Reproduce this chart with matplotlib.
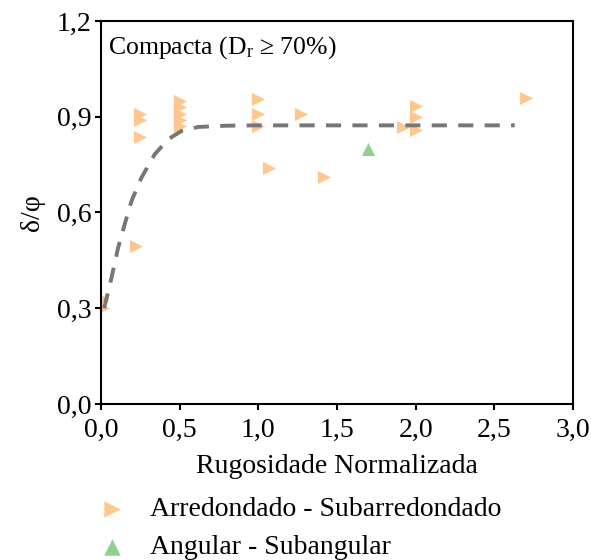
import matplotlib
matplotlib.use("Agg")
import matplotlib.pyplot as plt
from matplotlib.ticker import FixedLocator

plt.rcParams['font.family'] = ['Liberation Serif', 'DejaVu Serif']
plt.rcParams['mathtext.fontset'] = 'custom'
plt.rcParams['mathtext.rm'] = 'Liberation Serif'
plt.rcParams['mathtext.it'] = 'Liberation Serif:italic'

# Data: Arredondado - Subarredondado
round_x = [0.01, 0.01, 0.22, 0.25, 0.25, 0.25, 0.50, 0.50, 0.50, 0.50, 0.50,
           1.00, 1.00, 1.00, 1.07, 1.27, 1.42, 1.92, 2.00, 2.00, 2.00, 2.70]
round_y = [0.30, 0.33, 0.495, 0.91, 0.89, 0.835, 0.95, 0.93, 0.91, 0.89, 0.87,
           0.955, 0.91, 0.87, 0.74, 0.91, 0.71, 0.868, 0.935, 0.90, 0.857, 0.96]

# Data: Angular - Subangular
ang_x = [1.70]
ang_y = [0.80]

# Trend curve points
fit_x = [0.02, 0.066, 0.108, 0.15, 0.193, 0.256, 0.341, 0.426, 0.51, 0.617, 0.8, 1.0, 2.63]
fit_y = [0.30, 0.394, 0.488, 0.562, 0.635, 0.708, 0.782, 0.829, 0.855, 0.868, 0.872, 0.873, 0.873]

xticks = [0.0, 0.5, 1.0, 1.5, 2.0, 2.5, 3.0]
xlabels = ['0,0', '0,5', '1,0', '1,5', '2,0', '2,5', '3,0']
yticks = [0.0, 0.3, 0.6, 0.9, 1.2]
ylabels = ['0,0', '0,3', '0,6', '0,9', '1,2']

fig = plt.figure(figsize=(5.91, 5.60), dpi=100)
ax = fig.add_axes([0.1709, 0.2786, 0.7986, 0.6839])

ax.plot(fit_x, fit_y, color='#767676', lw=2.8, linestyle=(0, (3.9, 2.9)), zorder=3)
h1 = ax.scatter(round_x, round_y, marker='>', s=90, color='#FFC78F', linewidths=0, zorder=2,
                label='Arredondado - Subarredondado')
h2 = ax.scatter(ang_x, ang_y, marker='^', s=90, color='#8FD28F', linewidths=0, zorder=2,
                label='Angular - Subangular')

ax.set_xlim(0, 3.0)
ax.set_ylim(0, 1.2)
ax.xaxis.set_major_locator(FixedLocator(xticks))
ax.set_xticklabels(xlabels)
ax.yaxis.set_major_locator(FixedLocator(yticks))
ax.set_yticklabels(ylabels)
ax.tick_params(labelsize=20, length=4.5, width=1.5, direction='out', color='black', pad=2.5)
ax.tick_params(axis='x', pad=5.5)
for sp in ax.spines.values():
    sp.set_linewidth(1.5)
    sp.set_color('black')

ax.set_xlabel('Rugosidade Normalizada', fontsize=20, labelpad=8)
ax.set_ylabel('δ/φ', fontsize=20, labelpad=8)

ax.text(0.015, 0.965, 'Compacta (D$_{\\mathrm{r}}$ ≥ 70%)', transform=ax.transAxes,
        fontsize=18.5, ha='left', va='top')

fig.legend(handles=[h1, h2], loc='center left', bbox_to_anchor=(0.166, 0.056),
           frameon=False, fontsize=20, handlelength=1.0, handletextpad=0.87,
           labelspacing=0.45, borderpad=0, borderaxespad=0, scatterpoints=1,
           markerscale=1.25)

fig.savefig('out.png', dpi=100)
